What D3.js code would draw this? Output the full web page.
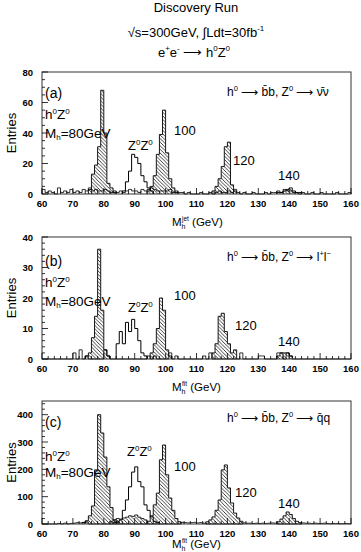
<!DOCTYPE html>
<html><head><meta charset="utf-8">
<script src="https://cdn.jsdelivr.net/npm/d3@7"></script>
<style>
body{margin:0;background:#fff}
svg{display:block}
text{font-family:"Liberation Sans",Arial,Helvetica,sans-serif;fill:#000}
</style>
</head><body>
<svg id="chart" width="361" height="552"></svg>
<script>
// ---------------- DATA ----------------
const xDomain = [60, 160];
const xTickValues = [60, 70, 80, 90, 100, 110, 120, 130, 140, 150, 160];
const peakLabels = ["100", "120", "140"];

// panel (a): h -> bb, Z -> nu nu   (bins of 1 GeV, first bin = start)
const aH80  = {start: 75,  n: [3, 13, 19, 31, 68, 40, 7, 4, 1]};
const aH100 = {start: 94,  n: [2, 5, 12, 26, 39, 55, 27, 10, 4, 1]};
const aH120 = {start: 115, n: [2, 5, 10, 18, 31, 34, 6, 2]};
const aH140 = {start: 136, n: [1, 1, 2, 3, 4, 2, 1, 1]};
const aZZ   = {start: 86,  n: [2, 8, 15, 26, 24, 20, 12, 8, 4, 2]};
const aBg = [3,1,2,1,0,4,1,2,1,3, 1,2,1,3,2,4,2,3,2,2, 3,2,1,2,1,2,1,2,3,2,
             2,1,3,2,3,4,3,2,2,2, 2,3,1,2,1,1,0,1,0,0, 0,1,0,0,1,0,1,2,1,1,
             2,1,3,1,0,1,0,0,1,0, 0,0,1,0,1,1,2,1,3,2, 2,1,1,0,1,0,0,1,0,0,
             1,0,0,0,0,1,0,0,0,1];
const aYTicks = [0, 20, 40, 60, 80];

// panel (b): h -> bb, Z -> l+ l-
const bH80  = {start: 74,  n: [1, 2, 7, 14, 36, 16, 3, 1]};
const bH100 = {start: 95,  n: [2, 5, 10, 20, 16, 3, 1]};
const bH120 = {start: 115, n: [2, 5, 14, 15, 9, 5, 2, 3]};
const bH140 = {start: 136, n: [1, 2, 2, 2, 1]};
const bZZ   = {start: 84,  n: [5, 9, 5, 12, 9, 13, 10, 6, 2, 1]};
const bBg = [0,0,0,0,0,0,0,0,0,0, 2,0,3,0,1,0,0,0,0,0, 3,1,0,0,0,0,0,0,0,0,
             0,0,0,0,1,0,1,0,0,0, 0,2,0,1,0,0,0,0,0,0, 0,0,1,0,2,0,0,0,0,0,
             0,0,0,0,2,0,0,0,0,0, 1,1,0,0,0,0,2,2,0,2, 1,0,0,0,0,0,0,0,0,0,
             0,0,0,0,0,0,0,0,0,0];
const bYTicks = [0, 10, 20, 30, 40];

// panel (c): h -> bb, Z -> q qbar
const cH80  = {start: 73,  n: [5, 12, 30, 66, 198, 400, 333, 245, 136, 60, 15, 5]};
const cH100 = {start: 94,  n: [10, 30, 70, 113, 235, 289, 180, 95, 50, 20, 8]};
const cH120 = {start: 113, n: [8, 15, 26, 50, 88, 198, 216, 132, 77, 40, 22, 10]};
const cH140 = {start: 136, n: [8, 18, 30, 44, 35, 20, 10, 5]};
const cZZ   = {start: 83,  n: [5, 8, 15, 50, 88, 136, 190, 209, 155, 136, 70, 50, 26, 10, 5]};
const cZZbb = {start: 82,  n: [10, 15, 20, 18, 22, 25, 30, 28, 33, 25, 20, 15]};
const cBg = [0,0,0,0,0,2,0,3,0,2, 3,5,4,6,8,0,0,0,0,0, 0,0,0,0,0,0,0,0,0,0,
             0,0,0,0,0,0,0,0,0,0, 0,0,0,0,0,6,5,4,5,6, 4,5,3,0,0,0,0,0,0,0,
             0,0,0,0,0,4,3,3,2,3, 2,3,2,3,4,3,0,0,0,0, 0,0,0,0,4,3,3,2,3,2,
             2,3,2,1,2,2,1,1,2,1];
const cYTicks = [0, 100, 200, 300, 400];

// ---------------- DRAW ----------------
const svg = d3.select("#chart");
const defs = svg.append("defs");
defs.append("pattern").attr("id", "hatch").attr("patternUnits", "userSpaceOnUse")
  .attr("width", 3.6).attr("height", 3.6)
  .append("path").attr("d", "M-1,-1 L4.6,4.6 M-1,2.6 L1,4.6 M2.6,-1 L4.6,1")
  .attr("stroke", "#000").attr("stroke-width", 0.75);

const left = 42, right = 351;
const x = d3.scaleLinear().domain(xDomain).range([left, right]);

const panels = [
  {key: "(a)", top: 72, bottom: 194, yMax: 80, ticks: aYTicks, minor: 5,
   peaks: [aH80, aH100, aH120, aH140], zz: aZZ, bgHatch: null, bg: aBg,
   xTitle: "jet", titleY: 226,
   lab: {a: 93, hz: 114, mh: 133}, zzLab: [128, 150], pk: [[174, 135], [233, 165], [278, 180]], chanY: 96},
  {key: "(b)", top: 237, bottom: 359, yMax: 40, ticks: bYTicks, minor: 2,
   peaks: [bH80, bH100, bH120, bH140], zz: bZZ, bgHatch: null, bg: bBg,
   xTitle: "fit", titleY: 391,
   lab: {a: 261, hz: 282, mh: 301}, zzLab: [128, 312], pk: [[174, 300], [235, 330], [278, 346]], chanY: 261},
  {key: "(c)", top: 401, bottom: 524, yMax: 450, ticks: cYTicks, minor: 20,
   peaks: [cH80, cH100, cH120, cH140], zz: cZZ, bgHatch: cZZbb, bg: cBg,
   xTitle: "fit", titleY: 548,
   lab: {a: 422, hz: 456, mh: 472}, zzLab: [127, 456], pk: [[174, 471], [235, 497], [278, 508]], chanY: 422}
];

function histPoints(start, counts) {
  const pts = [[start, 0]];
  counts.forEach((c, i) => { pts.push([start + i, c]); pts.push([start + i + 1, c]); });
  pts.push([start + counts.length, 0]);
  return pts;
}

panels.forEach((p, pi) => {
  const y = d3.scaleLinear().domain([0, p.yMax]).range([p.bottom, p.top]);
  const g = svg.append("g");
  const line = d3.line().x(d => x(d[0])).y(d => y(d[1]));

  g.append("path").attr("d", line(histPoints(xDomain[0], p.bg)))
    .attr("fill", "none").attr("stroke", "#000").attr("stroke-width", 0.8);
  if (p.bgHatch) {
    g.append("path").attr("d", line(histPoints(p.bgHatch.start, p.bgHatch.n)))
      .attr("fill", "url(#hatch)").attr("stroke", "#000").attr("stroke-width", 0.8);
  }
  g.append("path").attr("d", line(histPoints(p.zz.start, p.zz.n)))
    .attr("fill", "none").attr("stroke", "#000").attr("stroke-width", 1);
  p.peaks.forEach(pk => {
    g.append("path").attr("d", line(histPoints(pk.start, pk.n)))
      .attr("fill", "url(#hatch)").attr("stroke", "#000").attr("stroke-width", 0.9);
  });

  g.append("rect").attr("x", left).attr("y", p.top).attr("width", right - left)
    .attr("height", p.bottom - p.top).attr("fill", "none").attr("stroke", "#333").attr("stroke-width", 1);

  const xMinor = d3.range(xDomain[0], xDomain[1] + 0.1, 2);
  g.selectAll(".xt").data(xMinor).enter().append("line")
    .attr("x1", d => x(d)).attr("x2", d => x(d))
    .attr("y1", p.bottom).attr("y2", d => p.bottom - (d % 10 === 0 ? 6 : 3))
    .attr("stroke", "#000").attr("stroke-width", 0.8);
  g.selectAll(".xl").data(xTickValues).enter().append("text")
    .attr("x", d => x(d)).attr("y", p.bottom + 12.5).attr("text-anchor", "middle")
    .attr("font-size", 9.5).attr("font-weight", "bold").text(d => d);

  const yMinor = d3.range(0, p.yMax + 0.001, p.minor);
  g.selectAll(".yt").data(yMinor).enter().append("line")
    .attr("x1", left).attr("x2", d => left + (p.ticks.includes(d) ? 6 : 3))
    .attr("y1", d => y(d)).attr("y2", d => y(d))
    .attr("stroke", "#000").attr("stroke-width", 0.8);
  g.selectAll(".yl").data(p.ticks).enter().append("text")
    .attr("x", 33).attr("y", d => y(d) + 3.5).attr("text-anchor", "end")
    .attr("font-size", 9.5).attr("font-weight", "bold").text(d => d);

  const cy = (p.top + p.bottom) / 2;
  g.append("text").attr("transform", `translate(16,${cy}) rotate(-90)`)
    .attr("text-anchor", "middle").attr("font-size", 13).text("Entries");

  const xt = g.append("text").attr("x", 172).attr("y", p.titleY).attr("font-size", 11.5);
  xt.append("tspan").text("M");
  xt.append("tspan").attr("font-size", 7).attr("dy", 2.5).text("h");
  xt.append("tspan").attr("font-size", 6.5).attr("dy", -8).attr("dx", -3.5).text(p.xTitle);
  xt.append("tspan").attr("dy", 5.5).text(" (GeV)");

  g.append("text").attr("x", 45).attr("y", p.lab.a + 5).attr("font-size", 14).text(p.key);
  const hz = g.append("text").attr("x", 45).attr("y", p.lab.hz + 5).attr("font-size", 13.5);
  hz.append("tspan").text("h");
  hz.append("tspan").attr("font-size", 8).attr("dy", -5).text("0");
  hz.append("tspan").attr("dy", 5).text("Z");
  hz.append("tspan").attr("font-size", 8).attr("dy", -5).text("0");
  const mh = g.append("text").attr("x", 45).attr("y", p.lab.mh + 5).attr("font-size", 13.5);
  mh.append("tspan").text("M");
  mh.append("tspan").attr("font-size", 8).attr("dy", 2).text("h");
  mh.append("tspan").attr("dy", -2).text("=80GeV");

  const zz = g.append("text").attr("x", p.zzLab[0]).attr("y", p.zzLab[1]).attr("font-size", 13);
  zz.append("tspan").text("Z");
  zz.append("tspan").attr("font-size", 8).attr("dy", -5).text("0");
  zz.append("tspan").attr("dy", 5).text("Z");
  zz.append("tspan").attr("font-size", 8).attr("dy", -5).text("0");

  p.pk.forEach((pos, i) => {
    g.append("text").attr("x", pos[0]).attr("y", pos[1]).attr("font-size", 13).text(peakLabels[i]);
  });

  const ch = g.append("text").attr("x", 227).attr("y", p.chanY).attr("font-size", 12);
  ch.append("tspan").text("h");
  ch.append("tspan").attr("font-size", 7.5).attr("dy", -5).text("0");
  ch.append("tspan").attr("dy", 5).text(" ⟶ b\u0304b, Z");
  ch.append("tspan").attr("font-size", 7.5).attr("dy", -5).text("0");
  if (pi === 0) {
    ch.append("tspan").attr("dy", 5).text(" ⟶ ν\u0304ν");
  } else if (pi === 1) {
    ch.append("tspan").attr("dy", 5).text(" ⟶ l");
    ch.append("tspan").attr("font-size", 7.5).attr("dy", -5).text("+");
    ch.append("tspan").attr("dy", 5).text("l");
    ch.append("tspan").attr("font-size", 7.5).attr("dy", -5).text("−");
  } else {
    ch.append("tspan").attr("dy", 5).text(" ⟶ q\u0304q");
  }
});

svg.append("text").attr("x", 196).attr("y", 12).attr("text-anchor", "middle")
  .attr("font-size", 13).text("Discovery Run");
const t2 = svg.append("text").attr("x", 196).attr("y", 37).attr("text-anchor", "middle").attr("font-size", 13);
t2.append("tspan").text("√s=300GeV, ∫Ldt=30fb");
t2.append("tspan").attr("font-size", 8).attr("dy", -6).text("-1");
const t3 = svg.append("text").attr("x", 194).attr("y", 57).attr("text-anchor", "middle").attr("font-size", 13);
t3.append("tspan").text("e");
t3.append("tspan").attr("font-size", 8).attr("dy", -6).text("+");
t3.append("tspan").attr("dy", 6).text("e");
t3.append("tspan").attr("font-size", 8).attr("dy", -6).text("-");
t3.append("tspan").attr("dy", 6).text(" ⟶ h");
t3.append("tspan").attr("font-size", 8).attr("dy", -6).text("0");
t3.append("tspan").attr("dy", 6).text("Z");
t3.append("tspan").attr("font-size", 8).attr("dy", -6).text("0");
</script>
</body></html>
